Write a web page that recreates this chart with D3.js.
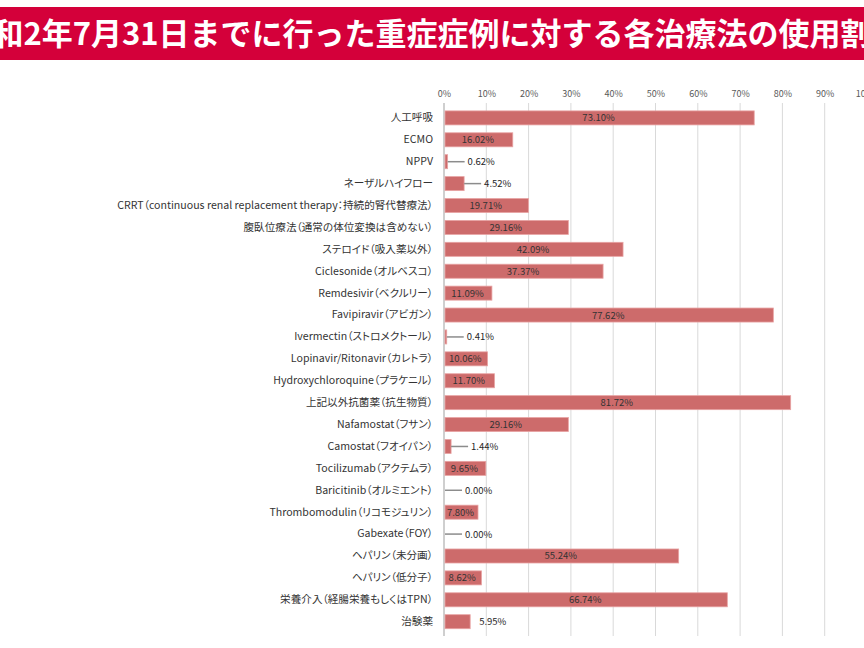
<!DOCTYPE html>
<html><head><meta charset="utf-8">
<script src="https://cdn.jsdelivr.net/npm/d3@7"></script>
<style>
html,body{margin:0;padding:0;background:#fff;}
svg{display:block;}
</style></head>
<body>
<script>
const title = "令和2年7月31日までに行った重症症例に対する各治療法の使用割合";
const categories = [
  "人工呼吸","ECMO","NPPV","ネーザルハイフロー",
  "CRRT（continuous renal replacement therapy：持続的腎代替療法）",
  "腹臥位療法（通常の体位変換は含めない）","ステロイド（吸入薬以外）",
  "Ciclesonide（オルベスコ）","Remdesivir（ベクルリー）","Favipiravir（アビガン）",
  "Ivermectin（ストロメクトール）","Lopinavir/Ritonavir（カレトラ）",
  "Hydroxychloroquine（プラケニル）","上記以外抗菌薬（抗生物質）",
  "Nafamostat（フサン）","Camostat（フオイパン）","Tocilizumab（アクテムラ）",
  "Baricitinib（オルミエント）","Thrombomodulin（リコモジュリン）","Gabexate（FOY）",
  "ヘパリン（未分画）","ヘパリン（低分子）","栄養介入（経腸栄養もしくはTPN）","治験薬"
];
const values = [73.10,16.02,0.62,4.52,19.71,29.16,42.09,37.37,11.09,77.62,0.41,10.06,11.70,81.72,29.16,1.44,9.65,0.00,7.80,0.00,55.24,8.62,66.74,5.95];
const tickValues = [0,10,20,30,40,50,60,70,80,90,100];

const W = 864, H = 648;
const svg = d3.select("body").append("svg").attr("width", W).attr("height", H);

// Title banner
svg.append("rect").attr("x", 0).attr("y", 7).attr("width", W).attr("height", 53).attr("fill", "#d4003a");
svg.append("text").attr("x", 432).attr("y", 45).attr("text-anchor", "middle")
  .attr("fill", "#fff").attr("font-family", "'Noto Sans CJK JP'").attr("font-size", 31)
  .attr("font-weight", 700).text(title);

const x = d3.scaleLinear().domain([0, 100]).range([444, 867]);
const y = d3.scaleBand().domain(categories).range([103, 636.6]).paddingInner(0.36).paddingOuter(0.36);

const font = "'Noto Sans CJK JP', 'Noto Sans', sans-serif";

// grid lines
svg.append("g").selectAll("line").data(tickValues.slice(1)).join("line")
  .attr("x1", d => x(d)).attr("x2", d => x(d)).attr("y1", 103).attr("y2", 636)
  .attr("stroke", "#d9d9d9").attr("stroke-width", 1);

// top axis
const axis = d3.axisTop(x).tickValues(tickValues).tickFormat(d => d + "%").tickSize(0).tickPadding(0);
const ag = svg.append("g").attr("transform", "translate(0,97)").call(axis);
ag.select(".domain").remove();
ag.selectAll("text").attr("font-family", font).attr("font-size", 9).attr("fill", "#595959");

// category axis line
svg.append("line").attr("x1", x(0)).attr("x2", x(0)).attr("y1", 103).attr("y2", 636)
  .attr("stroke", "#bfbfbf").attr("stroke-width", 1.5);

// category labels
const yAxis = d3.axisLeft(y).tickSize(0).tickPadding(11);
const yg = svg.append("g").attr("transform", `translate(${x(0)},0)`).call(yAxis);
yg.select(".domain").remove();
yg.selectAll("text").attr("font-family", font).attr("font-size", 10.6).attr("fill", "#333")
  .style("font-feature-settings", "'palt'");

const data = categories.map((c, i) => ({c, v: values[i]}));

// bars
svg.append("g").selectAll("rect").data(data).join("rect")
  .attr("x", x(0) + 1).attr("y", d => y(d.c))
  .attr("width", d => Math.max(0, x(d.v) - x(0)))
  .attr("height", y.bandwidth())
  .attr("fill", "#cd6b6b").attr("stroke", "#e8a3a3").attr("stroke-width", 0.8)
  .attr("display", d => d.v > 0 ? null : "none");

// labels
const lg = svg.append("g");
data.forEach(d => {
  const cy = y(d.c) + y.bandwidth() / 2;
  const bw = x(d.v) - x(0);
  const txt = d.v.toFixed(2) + "%";
  if (bw >= 30) {
    lg.append("text").attr("x", x(0) + bw / 2).attr("y", cy + 3.5).attr("text-anchor", "middle")
      .attr("font-family", font).attr("font-size", 9.5).attr("fill", "#333").text(txt);
  } else {
    const end = x(d.v) + 1;
    let tx = end + 9;
    if (d.v < 5) {
      lg.append("line").attr("x1", end).attr("x2", end + 17).attr("y1", cy).attr("y2", cy)
        .attr("stroke", "#8c8c8c").attr("stroke-width", 1.5);
      tx = end + 20;
    }
    lg.append("text").attr("x", tx).attr("y", cy + 3.5)
      .attr("font-family", font).attr("font-size", 9.5).attr("fill", "#262626").text(txt);
  }
});
</script>
</body></html>
